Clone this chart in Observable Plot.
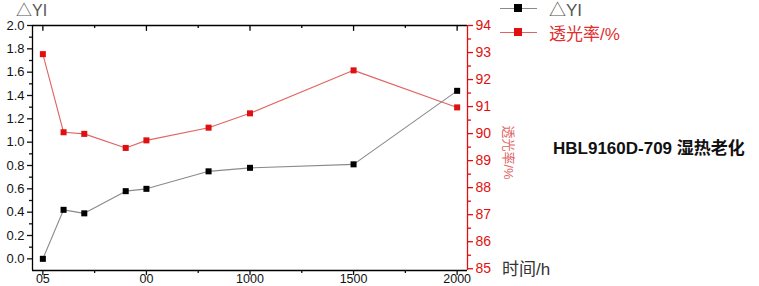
<!DOCTYPE html>
<html>
<head>
<meta charset="utf-8">
<script src="https://cdn.jsdelivr.net/npm/d3@7"></script>
<script src="https://cdn.jsdelivr.net/npm/@observablehq/plot@0.6"></script>
<style>
  html, body { margin: 0; padding: 0; background: #fff; }
  #wrap { position: relative; width: 759px; height: 286px; overflow: hidden; font-family: "Liberation Sans", Arial, sans-serif; }
  #wrap svg { position: absolute; left: 0; top: 0; }
  .lbl { position: absolute; white-space: nowrap; line-height: 1; }
  .cjk { font-family: "Liberation Sans", "Noto Sans CJK SC", sans-serif; }
  .leg { position: absolute; left: 500px; height: 16px; display: flex; align-items: center; }
  .leg .ln { position: relative; width: 37px; height: 1px; }
  .leg .sq { position: absolute; left: 14px; top: -4px; width: 8px; height: 8px; }
  .leg .tx { margin-left: 12px; font-size: 17px; }
</style>
</head>
<body>
<div id="wrap"></div>
<script>
// ---- data ----
const hours = [0, 100, 200, 400, 500, 800, 1000, 1500, 2000];
const deltaYI = [0.00, 0.42, 0.39, 0.58, 0.60, 0.75, 0.78, 0.81, 1.44];
const transmittance = [92.94, 90.05, 89.99, 89.47, 89.75, 90.22, 90.75, 92.34, 90.97];
const xTicks = [0, 500, 1000, 1500, 2000];
const xTickLabels = ["05", "00", "1000", "1500", "2000"];
const xMinorTicks = [250, 750, 1250, 1750];
const leftTicks = [0.0, 0.2, 0.4, 0.6, 0.8, 1.0, 1.2, 1.4, 1.6, 1.8, 2.0];
const leftMinorTicks = [0.1, 0.3, 0.5, 0.7, 0.9, 1.1, 1.3, 1.5, 1.7, 1.9];
const rightTicks = [85, 86, 87, 88, 89, 90, 91, 92, 93, 94];
const rightMinorTicks = [85.5, 86.5, 87.5, 88.5, 89.5, 90.5, 91.5, 92.5, 93.5];

const RED = "#e01010";
const RED_LINE = "#e06464";
const yDomain = [-0.1, 2.0];
const xDomain = [-50, 2050];
// map right-axis (transmittance %) onto the left scale
const R0 = 85, R1 = 94, L0 = -0.085, L1 = 2.0;
const toLeft = v => L0 + (v - R0) / (R1 - R0) * (L1 - L0);
const fromLeft = y => R0 + (y - L0) / (L1 - L0) * (R1 - R0);

const yiData = hours.map((h, i) => ({h, v: deltaYI[i]}));
const trData = hours.map((h, i) => ({h, v: toLeft(transmittance[i])}));

const chart = Plot.plot({
  width: 759,
  height: 286,
  marginLeft: 32,
  marginRight: 292,
  marginTop: 25,
  marginBottom: 16,
  style: {fontFamily: "'Liberation Sans', Arial, sans-serif", fontSize: "13px", color: "#111", background: "transparent"},
  x: {domain: xDomain, label: null},
  y: {domain: yDomain, label: null},
  marks: [
    // frame lines
    Plot.ruleY([yDomain[0]], {stroke: "#000", strokeWidth: 1.3}),
    Plot.ruleY([yDomain[1]], {stroke: "#000", strokeWidth: 1.3}),
    Plot.ruleX([xDomain[0]], {stroke: "#000", strokeWidth: 1.3}),
    Plot.ruleX([xDomain[1]], {stroke: RED, strokeWidth: 1.3}),
    // top inward ticks
    Plot.ruleX(xTicks, {x: d => d, y1: yDomain[1], y2: yDomain[1] - 0.05, stroke: "#000", strokeWidth: 1.3}),
    Plot.ruleX(xMinorTicks, {x: d => d, y1: yDomain[1], y2: yDomain[1] - 0.025, stroke: "#000", strokeWidth: 1.3}),
    // bottom axis
    Plot.axisX({ticks: xTicks, tickFormat: d => xTickLabels[xTicks.indexOf(d)], tickSize: 5, tickPadding: -1, strokeWidth: 1.3, fontSize: 12.5, label: null}),
    Plot.axisX({ticks: xMinorTicks, tickFormat: () => "", tickSize: 3, strokeWidth: 1.3, label: null}),
    // left axis
    Plot.axisY({anchor: "left", ticks: leftTicks, tickFormat: d3.format(".1f"), tickSize: 5, tickPadding: 3, strokeWidth: 1.3, fontSize: 13, label: null}),
    Plot.axisY({anchor: "left", ticks: leftMinorTicks, tickFormat: () => "", tickSize: 3, strokeWidth: 1.3, label: null}),
    // right axis
    Plot.axisY({anchor: "right", ticks: rightTicks.map(toLeft), tickFormat: d => String(Math.round(fromLeft(d))), tickSize: 5, tickPadding: 3, color: RED, strokeWidth: 1.3, fontSize: 14, label: null}),
    Plot.axisY({anchor: "right", ticks: rightMinorTicks.map(toLeft), tickFormat: () => "", tickSize: 3, color: RED, strokeWidth: 1.3, label: null}),
    // series
    Plot.line(trData, {x: "h", y: "v", stroke: RED_LINE, strokeWidth: 1.1}),
    Plot.line(yiData, {x: "h", y: "v", stroke: "#8a8a8a", strokeWidth: 1.1}),
    Plot.dot(trData, {x: "h", y: "v", symbol: "square", r: 3.4, fill: RED, stroke: "none"}),
    Plot.dot(yiData, {x: "h", y: "v", symbol: "square", r: 3.4, fill: "#000", stroke: "none"})
  ]
});

const wrap = document.getElementById("wrap");
wrap.appendChild(chart);

function addLabel(html, css, cls) {
  const d = document.createElement("div");
  d.className = "lbl " + (cls || "");
  d.innerHTML = html;
  Object.assign(d.style, css);
  wrap.appendChild(d);
  return d;
}
// left axis title
addLabel("△YI", {left: "16px", top: "3px", fontSize: "16px", color: "#555"}, "cjk");
// x axis title
addLabel("时间/h", {left: "502px", top: "261px", fontSize: "17px", color: "#333"}, "cjk");
// right axis title (rotated)
addLabel("透光率/%", {left: "481px", top: "146px", fontSize: "13px", color: RED_LINE, transform: "rotate(90deg)", transformOrigin: "center center"}, "cjk");
// chart annotation
addLabel("HBL9160D-709 湿热老化", {left: "553px", top: "140px", fontSize: "17px", fontWeight: "bold", color: "#111"}, "cjk");

// legend
function addLegend(top, lineColor, sqColor, text, textColor) {
  const row = document.createElement("div");
  row.className = "leg";
  row.style.top = top + "px";
  row.innerHTML = `<div class="ln" style="background:${lineColor}"><div class="sq" style="background:${sqColor}"></div></div><div class="tx cjk" style="color:${textColor}">${text}</div>`;
  wrap.appendChild(row);
}
addLegend(0, "#8a8a8a", "#000", "△YI", "#555");
addLegend(24, RED_LINE, RED, "透光率/%", "#e03030");
</script>
</body>
</html>
